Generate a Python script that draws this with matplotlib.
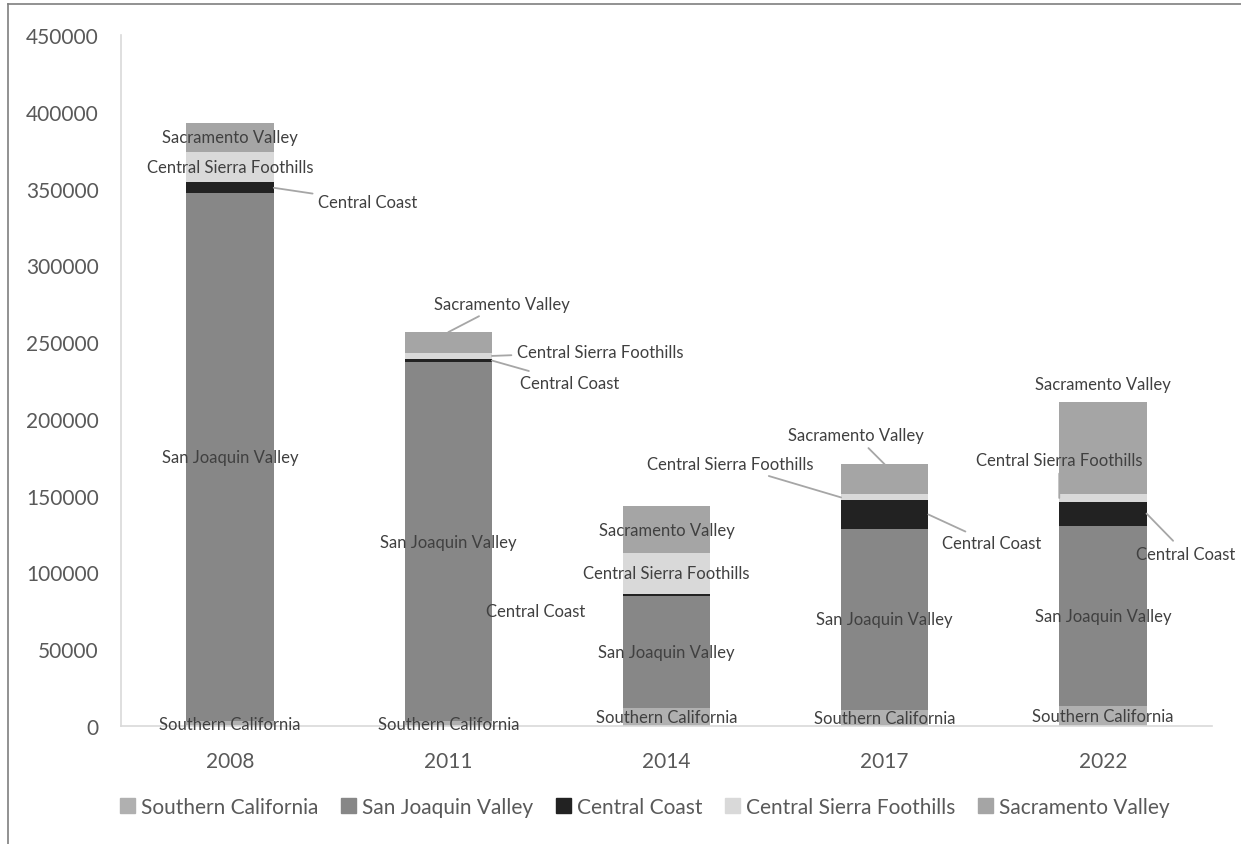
import matplotlib.pyplot as plt
from matplotlib.lines import Line2D
from matplotlib.patches import Patch
import numpy as np

# Data
years = ['2008', '2011', '2014', '2017', '2022']
regions = ['Southern California', 'San Joaquin Valley', 'Central Coast',
           'Central Sierra Foothills', 'Sacramento Valley']
southern_california = [3000, 3000, 11700, 10400, 13000]
san_joaquin_valley = [344000, 234000, 73200, 118200, 117500]
central_coast = [7000, 2000, 1300, 18300, 15700]
central_sierra_foothills = [20000, 4000, 26700, 3900, 4600]
sacramento_valley = [18500, 13500, 30100, 19600, 60000]
series = [southern_california, san_joaquin_valley, central_coast,
          central_sierra_foothills, sacramento_valley]
colors = ['#b0b0b0', '#878787', '#222222', '#d9d9d9', '#a5a5a5']

text_color = '#404040'
line_color = '#a6a6a6'
font = 'Lato'
plt.rcParams['font.family'] = [font, 'DejaVu Sans']

fig = plt.figure(figsize=(12.41, 8.45), dpi=100)
ax = fig.add_axes([121 / 1241, 1 - 727 / 845, (1212 - 121) / 1241, (727 - 36) / 845])

x = np.arange(len(years))
width = 0.4
bottoms = np.zeros(len(years))
seg_bottoms = []
for vals, col, name in zip(series, colors, regions):
    ax.bar(x, vals, width, bottom=bottoms, color=col, label=name, zorder=2)
    seg_bottoms.append(bottoms.copy())
    bottoms = bottoms + np.array(vals)

ax.set_xlim(-0.5, 4.5)
ax.set_ylim(0, 450000)
ax.set_yticks(np.arange(0, 450001, 50000))
ax.set_xticks(x)
ax.set_xticklabels(years)
ax.tick_params(length=0, labelsize=15, colors='#595959')
ax.tick_params(axis='y', pad=16)
ax.tick_params(axis='x', pad=18)
for s in ['top', 'right']:
    ax.spines[s].set_visible(False)
for s in ['left', 'bottom']:
    ax.spines[s].set_color('#d9d9d9')
    ax.spines[s].set_linewidth(1.2)

# label placement: (series index, year index) -> (anchor, dx, dy, ha, leader)
# anchor: 'c' center of segment, 'r' right edge, 'l' left edge, 't' top centre
special = {
    (2, 0): ('r', 94, -14, 'center', True),
    (4, 1): ('t', 54, 28, 'center', True),
    (3, 1): ('r', 25, 4, 'left', True),
    (2, 1): ('r', 28, -22, 'left', True),
    (2, 2): ('l', -38, -16, 'right', False),
    (4, 3): ('t', -29, 29, 'center', True),
    (3, 3): ('l', -28, 33, 'right', True),
    (2, 3): ('r', 63, -29, 'center', True),
    (4, 4): ('t', 0, 18, 'center', False),
    (3, 4): ('l', 0, 38, 'center', True),
    (2, 4): ('r', 39, -40, 'center', True),
}

label_size = 12
for si, (vals, name) in enumerate(zip(series, regions)):
    for yi in range(len(years)):
        mid = seg_bottoms[si][yi] + vals[yi] / 2
        if (si, yi) in special:
            anchor, dx, dy, ha, leader = special[(si, yi)]
            if anchor == 'r':
                xy = (x[yi] + width / 2, mid)
            elif anchor == 'l':
                xy = (x[yi] - width / 2, mid)
            elif anchor == 't':
                xy = (x[yi], seg_bottoms[si][yi] + vals[yi])
            else:
                xy = (x[yi], mid)
            props = None
            if leader:
                props = dict(arrowstyle='-', color=line_color, lw=1.3,
                             shrinkA=2, shrinkB=0)
            ax.annotate(name, xy=xy, xytext=(dx, dy), textcoords='offset pixels',
                        ha=ha, va='center', fontsize=label_size, color=text_color,
                        arrowprops=props, zorder=3)
        else:
            ax.text(x[yi], mid, name, ha='center', va='center', fontsize=label_size,
                    color=text_color, zorder=3)

handles = [Patch(color=c) for c in colors]
fig.legend(handles, regions, loc='center', bbox_to_anchor=(645 / 1241, 1 - 808 / 845),
           ncol=5, frameon=False, fontsize=15, labelcolor='#595959',
           handlelength=0.7, handleheight=0.7, handletextpad=0.3, columnspacing=1.1)

# outer frame (left and top edges)
fig.add_artist(Line2D([8 / 1241, 8 / 1241], [0, 1 - 5 / 845], color='#7f7f7f', lw=1.2))
fig.add_artist(Line2D([8 / 1241, 1], [1 - 5 / 845, 1 - 5 / 845], color='#7f7f7f', lw=1.2))

fig.savefig('out.png', dpi=100, facecolor='white')
